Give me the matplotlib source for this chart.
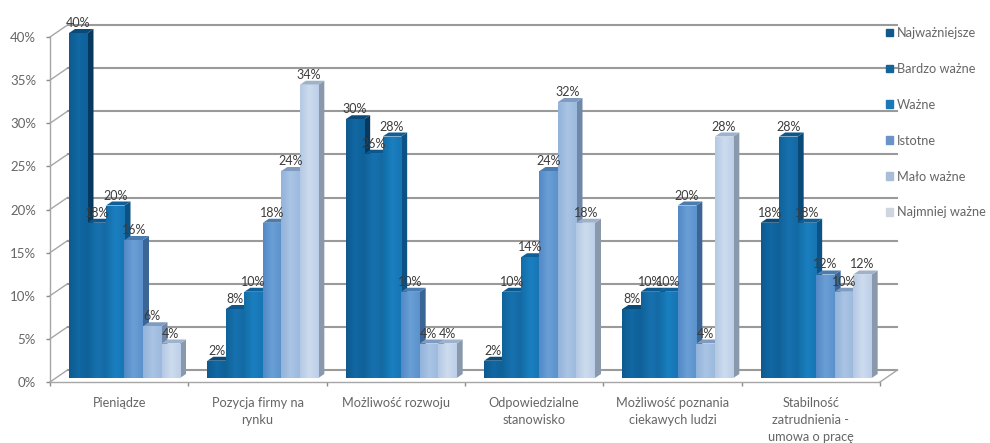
import numpy as np
import matplotlib
matplotlib.use('Agg')
import matplotlib.pyplot as plt
from matplotlib.colors import LinearSegmentedColormap
from matplotlib.patches import Patch, Polygon

plt.rcParams['font.family'] = ['Lato', 'DejaVu Sans']

categories = ['Pieniądze', 'Pozycja firmy na\nrynku', 'Możliwość rozwoju',
              'Odpowiedzialne\nstanowisko', 'Możliwość poznania\nciekawych ludzi',
              'Stabilność\nzatrudnienia -\numowa o pracę']
series = ['Najważniejsze', 'Bardzo ważne', 'Ważne', 'Istotne', 'Mało ważne', 'Najmniej ważne']
values = [[40, 18, 20, 16, 6, 4],
          [2, 8, 10, 18, 24, 34],
          [30, 26, 28, 10, 4, 4],
          [2, 10, 14, 24, 32, 18],
          [8, 10, 10, 20, 4, 28],
          [18, 28, 18, 12, 10, 12]]
y_ticks = [0, 5, 10, 15, 20, 25, 30, 35, 40]

# left edge, middle, right edge of each bar, then side and top faces
shades = [('#0e5a8f', '#1168a3', '#0f6199'),
          ('#106399', '#1771af', '#1469a3'),
          ('#136da6', '#1a7fc0', '#1775b3'),
          ('#5289c6', '#6a9fd6', '#5b92cc'),
          ('#93b3da', '#a9c4e4', '#9cbade'),
          ('#b5c9e4', '#cddbee', '#bccfe8')]
side_cols = ['#07395e', '#0a4a78', '#0c5285', '#3a6595', '#6f88a8', '#8a98ac']
top_cols = ['#0a4a78', '#0d578c', '#105f96', '#4a7cb0', '#7f9cc0', '#9fb2cc']
legend_cols = ['#11598a', '#14649c', '#1a78b4', '#6a94c8', '#a9bdd6', '#cfd6e0']

fig = plt.figure(figsize=(9.9, 4.43), dpi=100)
ax = fig.add_axes([50 / 990, (443 - 382) / 443, 830 / 990, 345 / 443])
ax.set_xlim(0, 6)
ax.set_ylim(0, 40)

px = 6 / 830   # one pixel in x units
py = 40 / 345  # one pixel in y units
depth_x, depth_y = 17.5 * px, 12 * py
bar_w = 18.5 * px
bar_dx, bar_dy = 6 * px, 4 * py
base = 4 * py
start = 19 * px

# back wall and the diagonals that join it to the axis
for t in y_ticks:
    ax.plot([0, depth_x], [t, t + depth_y], color='#a6a6a6', lw=1, clip_on=False, zorder=1)
    ax.plot([depth_x, 6 + depth_x], [t + depth_y, t + depth_y], color='#9a9a9a', lw=1.5,
            clip_on=False, zorder=1)
ax.plot([6, 6 + depth_x], [0, depth_y], color='#a6a6a6', lw=1, clip_on=False, zorder=1)

z = 3
for g, row in enumerate(values):
    for i, v in enumerate(row):
        x0 = g + start + i * bar_w
        x1 = x0 + bar_w
        rect = ax.bar(x0, v, width=bar_w, bottom=base, align='edge', color=shades[i][1],
                      zorder=z, clip_on=False)[0]
        cmap = LinearSegmentedColormap.from_list('s', shades[i])
        im = ax.imshow(np.linspace(0, 1, 32).reshape(1, -1), cmap=cmap, aspect='auto',
                       extent=[x0, x1, base, base + v], zorder=z + 0.1, clip_on=True)
        im.set_clip_path(rect)
        ax.add_patch(Polygon([(x1, base), (x1 + bar_dx, base + bar_dy),
                              (x1 + bar_dx, base + v + bar_dy), (x1, base + v)],
                             color=side_cols[i], lw=0, zorder=z - 0.2, clip_on=False))
        ax.add_patch(Polygon([(x0, base + v), (x0 + bar_dx, base + v + bar_dy),
                              (x1 + bar_dx, base + v + bar_dy), (x1, base + v)],
                             color=top_cols[i], lw=0, zorder=z - 0.2, clip_on=False))
        z += 1

for g, row in enumerate(values):
    for i, v in enumerate(row):
        ax.text(g + start + (i + 0.5) * bar_w, base + v + bar_dy, f'{v}%',
                ha='center', va='bottom', fontsize=9, color='#3c3c3c', zorder=200,
                clip_on=False)

ax.set_xlim(0, 6)
ax.set_ylim(0, 40)
ax.set_yticks(y_ticks)
ax.set_yticklabels([f'{t}%' for t in y_ticks])
ax.set_xticks(np.arange(7))
ax.set_xticklabels([])
ax.set_xticks(np.arange(6) + 0.5, categories, minor=True)
ax.tick_params(axis='both', which='major', color='#8c8c8c', length=3, width=1)
ax.tick_params(axis='y', labelsize=9.5, labelcolor='#666666', pad=7)
ax.tick_params(axis='x', which='minor', length=0, labelsize=9.2, labelcolor='#666666', pad=10.5)
for lbl in ax.get_xticklabels(minor=True):
    lbl.set_linespacing(1.5)

for side in ['top', 'right']:
    ax.spines[side].set_visible(False)
for side in ['left', 'bottom']:
    ax.spines[side].set_color('#a6a6a6')
    ax.spines[side].set_linewidth(1)

handles = [Patch(color=c, label=s) for c, s in zip(legend_cols, series)]
ax.legend(handles=handles, loc='upper left', bbox_to_anchor=(886 / 990, 1 - 27 / 443),
          bbox_transform=fig.transFigure, frameon=False, fontsize=9.2, labelcolor='#666666',
          labelspacing=1.87, handlelength=0.55, handleheight=0.55, handletextpad=0.31,
          borderpad=0, borderaxespad=0)

fig.savefig('out.png', dpi=100)
